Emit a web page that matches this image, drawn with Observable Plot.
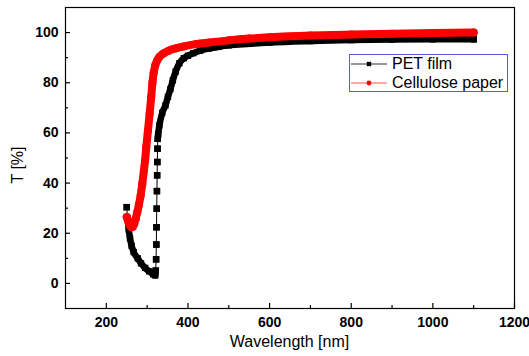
<!DOCTYPE html>
<html><head><meta charset="utf-8">
<script src="https://cdn.jsdelivr.net/npm/d3@7"></script>
<script src="https://cdn.jsdelivr.net/npm/@observablehq/plot@0.6"></script>
<style>
body{margin:0;background:#fff;}
#chart{position:relative;width:529px;height:356px;font-family:"Liberation Sans",Arial,sans-serif;}
#chart svg{overflow:visible;}
.ttl{position:absolute;font-size:16px;color:#000;white-space:nowrap;}
#legend{position:absolute;left:349px;top:54px;width:157px;height:36px;border:1px solid #5a5ae0;background:#fff;}
#legend .row{position:absolute;left:0;height:18px;width:157px;}
#legend svg{position:absolute;left:0;top:0;}
#legend span{position:absolute;left:42px;top:0;font-size:16px;line-height:18px;}
</style></head><body>
<div id="chart"></div>
<script>
// PET film
const petWavelength = [250,252,255,258,262,267,277,285,295,305,315,320,321,322,322.5,323,323.5,324,324.5,325,325.5,326,327,330,337,345,351,357,363,370,379,390,400,413,430,450,475,500,550,600,700,800,900,1000,1100];
const petT = [30.4,26,21.5,18,15,12.5,10,8,6.2,4.8,3.6,3.2,5.1,9.6,15.5,22.4,29.8,36.8,43.1,48.4,53.7,57.7,59.5,63,68,71,74.4,77.5,81,84.5,87.8,89.8,90.8,91.8,92.8,93.6,94.3,94.9,95.5,96,96.6,97,97.2,97.3,97.3];
// Cellulose paper
const celWavelength = [250,253,256,259,262,265,268,272,276,280,284,288,292,295,298,302,306,310,313,316,320,325,330,340,353,370,390,420,450,500,550,600,700,800,900,1000,1100];
const celT = [26.5,25,23.8,22.8,22.4,22.6,23.6,25.8,28.5,31.5,35,39.5,45,49,54.5,61,67.5,74.4,80,84,87,89,90.3,91.7,92.8,93.7,94.5,95.4,96,96.9,97.6,98.1,98.8,99.2,99.5,99.8,100];

const xTicks = [200,400,600,800,1000,1200];
const xMinor = [300,500,700,900,1100];
const yTicks = [0,20,40,60,80,100];
const yMinor = [10,30,50,70,90];
const seriesNames = ["PET film","Cellulose paper"];

const W = 529, H = 356, mL = 65, mR = 15, mT = 7, mB = 48;
const plotH = H - mT - mB, plotW = W - mL - mR;

// samples that are far apart along a steep rise are drawn as separate markers,
// dense samples merge into a continuous band
const pet = petWavelength.map((w,i)=>({w, t: petT[i]}));
let seg = 0;
pet.forEach((d,i)=>{
  if (i>0 && Math.abs((d.t - pet[i-1].t)/(d.w - pet[i-1].w)) > 2) seg++;
  d.seg = seg;
});
const cel = celWavelength.map((w,i)=>({w, t: celT[i]}));

const chart = Plot.plot({
  width: W, height: H,
  marginLeft: mL, marginRight: mR, marginTop: mT, marginBottom: mB,
  x: {domain: [100,1200]},
  y: {domain: [-10,110]},
  style: {fontFamily: "'Liberation Sans', Arial, sans-serif", background: "white", color: "black", overflow: "visible"},
  marks: [
    Plot.axisX(xTicks, {tickSize: 0, tickPadding: 9, fontSize: 14, fontWeight: "bold", label: null, tickFormat: d => String(d)}),
    Plot.axisY(yTicks, {tickSize: 0, tickPadding: 7, fontSize: 14, fontWeight: "bold", label: null, tickFormat: d => String(d)}),
    Plot.tickX(xTicks, {x: d=>d, insetTop: plotH-5, stroke: "black", strokeWidth: 1.2}),
    Plot.tickX(xMinor, {x: d=>d, insetTop: plotH-3, stroke: "black", strokeWidth: 1.2}),
    Plot.tickY(yTicks, {y: d=>d, insetRight: plotW-5, stroke: "black", strokeWidth: 1.2}),
    Plot.tickY(yMinor, {y: d=>d, insetRight: plotW-3, stroke: "black", strokeWidth: 1.2}),
    Plot.line(pet, {x: "w", y: "t", stroke: "black", strokeWidth: 1}),
    Plot.line(pet, {x: "w", y: "t", z: "seg", stroke: "black", strokeWidth: 6.5, strokeLinecap: "square", strokeLinejoin: "round", curve: "monotone-x"}),
    Plot.dot(pet, {x: "w", y: "t", symbol: "square", r: 3.6, fill: "black"}),
    Plot.line(cel, {x: "w", y: "t", stroke: "red", strokeWidth: 8, strokeLinecap: "round", strokeLinejoin: "round", curve: "monotone-x"}),
    Plot.dot(cel, {x: "w", y: "t", r: 4, fill: "red"}),
    Plot.frame({stroke: "black", strokeWidth: 1.2})
  ]
});
const root = document.getElementById("chart");
root.appendChild(chart);

// axis titles
const xt = document.createElement("div");
xt.className = "ttl"; xt.textContent = "Wavelength [nm]";
xt.style.left = (mL + plotW/2) + "px"; xt.style.top = "342px";
xt.style.transform = "translate(-50%,-50%)";
root.appendChild(xt);
const yt = document.createElement("div");
yt.className = "ttl"; yt.textContent = "T [%]";
yt.style.left = "18px"; yt.style.top = "165px";
yt.style.transform = "translate(-50%,-50%) rotate(-90deg)";
root.appendChild(yt);

// legend
const lg = document.createElement("div");
lg.id = "legend";
const lineCols = ["#333","#ff5050"];
seriesNames.forEach((name,i)=>{
  const row = document.createElement("div");
  row.className = "row"; row.style.top = (i*19) + "px";
  const marker = i === 0
    ? `<rect x="16.8" y="6.8" width="4.4" height="4.4" fill="black"/>`
    : `<circle cx="19" cy="9" r="2.4" fill="red"/>`;
  row.innerHTML = `<svg width="40" height="18"><line x1="1" x2="37" y1="9" y2="9" stroke="${lineCols[i]}" stroke-width="1"/>${marker}</svg><span>${name}</span>`;
  lg.appendChild(row);
});
root.appendChild(lg);
</script>
</body></html>
